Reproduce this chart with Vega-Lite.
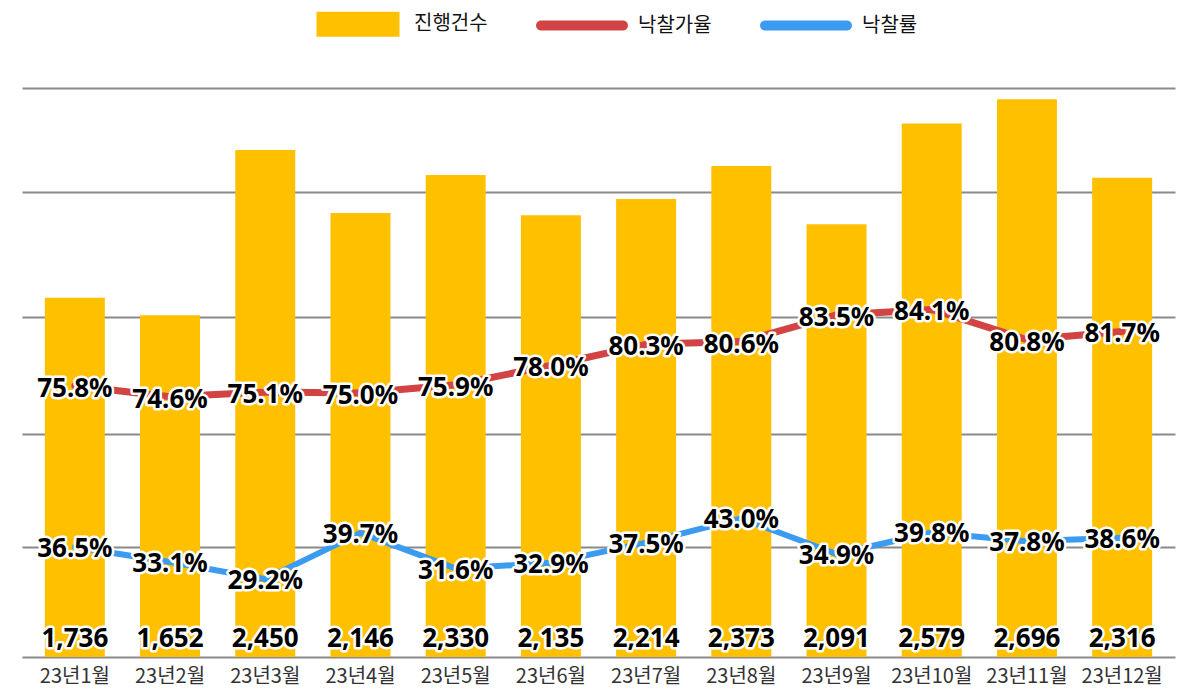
{
  "$schema": "https://vega.github.io/schema/vega-lite/v6.json",
  "width": 1153,
  "height": 569,
  "autosize": {"type": "none"},
  "padding": {"left": 22, "top": 88, "right": 25, "bottom": 43},
  "background": "white",
  "config": {"view": {"stroke": null}, "font": "Noto Sans"},
  "data": {"values": [
    {"month": "23년1월", "count": 1736, "rate": 0.758, "ratio": 0.365},
    {"month": "23년2월", "count": 1652, "rate": 0.746, "ratio": 0.331},
    {"month": "23년3월", "count": 2450, "rate": 0.751, "ratio": 0.292},
    {"month": "23년4월", "count": 2146, "rate": 0.750, "ratio": 0.397},
    {"month": "23년5월", "count": 2330, "rate": 0.759, "ratio": 0.316},
    {"month": "23년6월", "count": 2135, "rate": 0.780, "ratio": 0.329},
    {"month": "23년7월", "count": 2214, "rate": 0.803, "ratio": 0.375},
    {"month": "23년8월", "count": 2373, "rate": 0.806, "ratio": 0.430},
    {"month": "23년9월", "count": 2091, "rate": 0.835, "ratio": 0.349},
    {"month": "23년10월", "count": 2579, "rate": 0.841, "ratio": 0.398},
    {"month": "23년11월", "count": 2696, "rate": 0.808, "ratio": 0.378},
    {"month": "23년12월", "count": 2316, "rate": 0.817, "ratio": 0.386}
  ]},
  "encoding": {
    "x": {
      "field": "month", "type": "nominal", "sort": null,
      "scale": {"paddingInner": 0.37, "paddingOuter": 0.24},
      "axis": {"title": null, "labelFont": "Noto Sans CJK KR", "labelFontSize": 20, "labelColor": "#333333", "ticks": false, "domain": false, "labelPadding": 9, "labelAngle": 0, "grid": false}
    }
  },
  "layer": [
    {
      "encoding": {
        "y": {"field": "count", "type": "quantitative", "scale": {"domain": [0, 2750], "nice": false},
          "axis": {"values": [0, 531, 1077, 1643, 2246, 2750], "labels": false, "ticks": false, "domain": false, "title": null, "grid": true, "gridColor": "#8a8a8a", "gridWidth": 2}}
      },
      "layer": [
        {
          "mark": {"type": "bar"},
          "encoding": {
            "color": {"datum": "진행건수", "type": "nominal",
              "scale": {"domain": ["진행건수", "낙찰가율", "낙찰률"], "range": ["#FFC000", "#D24343", "#3A9BF0"]},
              "legend": {
                "orient": "none", "legendX": 290, "legendY": -110, "direction": "horizontal", "title": null,
                "symbolSize": 8464, "labelFont": "Noto Sans CJK KR", "labelFontSize": 20, "labelColor": "#111111",
                "columnPadding": 48, "labelOffset": 10, "symbolStrokeWidth": 0,
                "encode": {"symbols": {"update": {
                  "shape": {"signal": "datum.value === '진행건수' ? 'M-1,-0.3H1V0.3H-1Z' : 'M-0.89,-0.109H0.89A0.109,0.109 0 0 1 0.89,0.109H-0.89A0.109,0.109 0 0 1 -0.89,-0.109Z'"},
                  "size": {"signal": "datum.value === '진행건수' ? 6889 : 8464"},
                  "fill": {"signal": "scale('color', datum.value)"},
                  "stroke": {"value": "transparent"},
                  "opacity": {"value": 1},
                  "fillOpacity": {"value": 1}
                }}}
              }
            }
          }
        },
        {
          "mark": {"type": "text", "font": "Noto Sans", "fontWeight": "bold", "fontSize": 26, "baseline": "bottom", "dy": -5, "stroke": "white", "strokeWidth": 5, "strokeJoin": "round", "fill": "white"},
          "encoding": {"y": {"datum": 0, "type": "quantitative"}, "text": {"field": "count", "type": "quantitative", "format": ","}}
        },
        {
          "mark": {"type": "text", "font": "Noto Sans", "fontWeight": "bold", "fontSize": 26, "baseline": "bottom", "dy": -5, "fill": "#000000"},
          "encoding": {"y": {"datum": 0, "type": "quantitative"}, "text": {"field": "count", "type": "quantitative", "format": ","}}
        }
      ]
    },
    {
      "encoding": {
        "y": {"field": "rate", "type": "quantitative", "scale": {"domain": [0.4628, 1.0819], "nice": false, "zero": false}, "axis": null}
      },
      "layer": [
        {
          "mark": {"type": "line", "strokeWidth": 7, "strokeCap": "round", "strokeJoin": "round"},
          "encoding": {"color": {"datum": "낙찰가율", "type": "nominal"}}
        },
        {
          "mark": {"type": "text", "font": "Noto Sans", "fontWeight": "bold", "fontSize": 26, "baseline": "middle", "dy": 3, "stroke": "white", "strokeWidth": 5, "strokeJoin": "round", "fill": "white"},
          "encoding": {"text": {"field": "rate", "type": "quantitative", "format": ".1%"}}
        },
        {
          "mark": {"type": "text", "font": "Noto Sans", "fontWeight": "bold", "fontSize": 26, "baseline": "middle", "dy": 3, "fill": "#000000"},
          "encoding": {"text": {"field": "rate", "type": "quantitative", "format": ".1%"}}
        }
      ]
    },
    {
      "encoding": {
        "y": {"field": "ratio", "type": "quantitative", "scale": {"domain": [0.115, 1.408], "nice": false, "zero": false}, "axis": null}
      },
      "layer": [
        {
          "mark": {"type": "line", "strokeWidth": 6, "strokeCap": "round", "strokeJoin": "round"},
          "encoding": {"color": {"datum": "낙찰률", "type": "nominal"}}
        },
        {
          "mark": {"type": "text", "font": "Noto Sans", "fontWeight": "bold", "fontSize": 26, "baseline": "middle", "dy": 2, "stroke": "white", "strokeWidth": 5, "strokeJoin": "round", "fill": "white"},
          "encoding": {"text": {"field": "ratio", "type": "quantitative", "format": ".1%"}}
        },
        {
          "mark": {"type": "text", "font": "Noto Sans", "fontWeight": "bold", "fontSize": 26, "baseline": "middle", "dy": 2, "fill": "#000000"},
          "encoding": {"text": {"field": "ratio", "type": "quantitative", "format": ".1%"}}
        }
      ]
    }
  ],
  "resolve": {"scale": {"y": "independent"}}
}
